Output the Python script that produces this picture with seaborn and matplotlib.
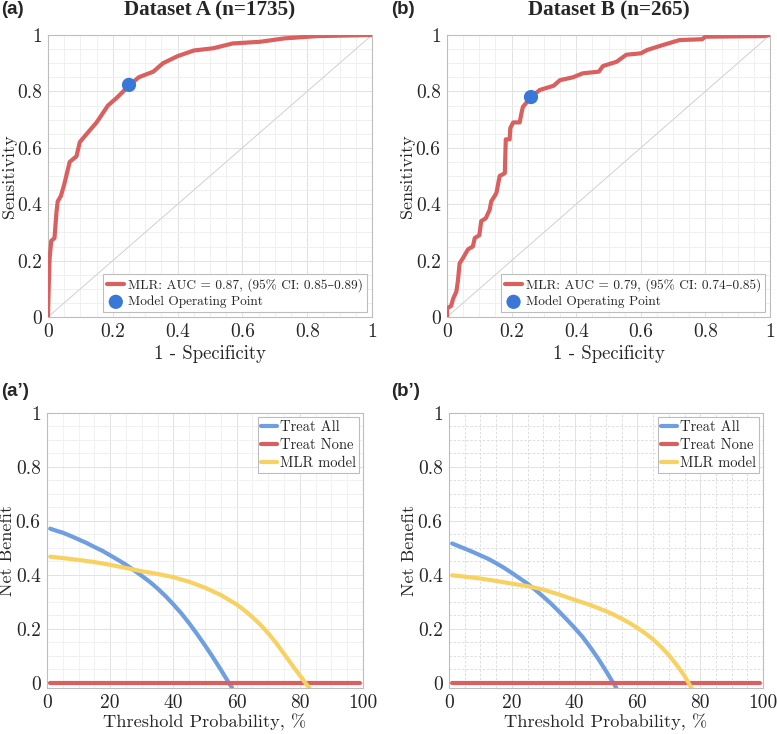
import os
import pandas as pd
import seaborn as sns
import matplotlib as mpl
import matplotlib.pyplot as plt
from matplotlib import font_manager
from matplotlib.ticker import MultipleLocator, FuncFormatter

# --- ROC data ---
fpr_a = [0, 0.002, 0.005, 0.01, 0.02, 0.026, 0.03, 0.04, 0.05, 0.067, 0.088, 0.098, 0.12,
         0.15, 0.185, 0.21, 0.25, 0.28, 0.325, 0.355, 0.4, 0.45, 0.51, 0.57, 0.655, 0.73, 0.83, 1.0]
tpr_a = [0, 0.10, 0.21, 0.27, 0.28, 0.37, 0.41, 0.43, 0.47, 0.55, 0.57, 0.62, 0.65,
         0.69, 0.75, 0.775, 0.82, 0.85, 0.87, 0.90, 0.925, 0.945, 0.953, 0.97, 0.976, 0.988, 0.996, 1.0]
op_a = (0.25, 0.823)

fpr_b = [0, 0, 0.013, 0.019, 0.029, 0.034, 0.039, 0.05, 0.065, 0.08, 0.086, 0.10, 0.106, 0.12,
         0.132, 0.137, 0.148, 0.153, 0.163, 0.179, 0.182, 0.194, 0.196, 0.205, 0.225, 0.23, 0.235,
         0.26, 0.287, 0.33, 0.35, 0.39, 0.42, 0.47, 0.483, 0.525, 0.555, 0.60, 0.62, 0.67, 0.72,
         0.79, 0.80, 0.98, 1.0]
tpr_b = [0, 0.03, 0.04, 0.065, 0.09, 0.13, 0.19, 0.21, 0.24, 0.25, 0.28, 0.29, 0.34, 0.35,
         0.38, 0.41, 0.43, 0.44, 0.50, 0.51, 0.63, 0.63, 0.67, 0.69, 0.69, 0.72, 0.745,
         0.78, 0.805, 0.82, 0.84, 0.85, 0.864, 0.87, 0.89, 0.905, 0.93, 0.935, 0.947, 0.965, 0.982,
         0.985, 0.994, 0.996, 1.0]
op_b = (0.26, 0.78)

auc_a = "MLR: AUC = 0.87, (95% CI: 0.85–0.89)"
auc_b = "MLR: AUC = 0.79, (95% CI: 0.74–0.85)"

# --- Decision curve data (threshold %, net benefit) ---
none_t = [1, 99]
none_nb = [0, 0]

all_t_a = [1, 2.5, 5, 7.5, 10, 12.5, 15, 17.5, 20, 22.5, 25, 27.5, 30, 32.5, 35, 37.5,
           40, 42.5, 45, 47.5, 50, 52.5, 55, 57.5, 58.6]
all_nb_a = [0.571, 0.565, 0.556, 0.544, 0.531, 0.518, 0.503, 0.489, 0.472, 0.455, 0.437, 0.417,
            0.396, 0.374, 0.349, 0.321, 0.29, 0.257, 0.22, 0.18, 0.138, 0.094, 0.048, 0.0, -0.02]
mlr_t_a = [1, 5, 10, 15, 20, 25, 30, 35, 40, 45, 50, 55, 60, 62.5, 65, 67.5, 70, 72.5,
           75, 77.5, 80, 82, 83]
mlr_nb_a = [0.467, 0.462, 0.455, 0.447, 0.437, 0.425, 0.413, 0.403, 0.391, 0.374, 0.352, 0.325,
            0.29, 0.268, 0.243, 0.215, 0.183, 0.147, 0.107, 0.066, 0.027, -0.005, -0.02]

all_t_b = [1, 5, 7.5, 10, 12.5, 15, 17.5, 20, 22.5, 25, 27.5, 30, 32.5, 35, 37.5, 40,
           42.5, 45, 47.5, 50, 52.5, 53.3]
all_nb_b = [0.516, 0.497, 0.485, 0.472, 0.459, 0.443, 0.426, 0.407, 0.387, 0.367, 0.344, 0.319,
            0.293, 0.264, 0.234, 0.203, 0.17, 0.131, 0.089, 0.043, -0.005, -0.02]
mlr_t_b = [1, 5, 10, 15, 20, 25, 30, 35, 40, 45, 50, 52.5, 55, 57.5, 60, 62.5, 65, 67.5,
           70, 72.5, 75, 76.5, 77.2]
mlr_nb_b = [0.398, 0.393, 0.386, 0.377, 0.367, 0.358, 0.345, 0.327, 0.307, 0.288, 0.265, 0.252,
            0.237, 0.221, 0.203, 0.183, 0.16, 0.133, 0.102, 0.066, 0.025, -0.005, -0.02]

RED = "#d9605f"
BLUE_DOT = "#3a78d8"
BLUE = "#6f9fe0"
YELLOW = "#f7d262"
FRAME = "#bdbdbd"

sns.set_style("white")
cm_path = os.path.join(mpl.get_data_path(), "fonts", "ttf", "cmr10.ttf")
font_manager.fontManager.addfont(cm_path)
plt.rcParams["font.family"] = ["cmr10", "DejaVu Serif"]
plt.rcParams["axes.formatter.use_mathtext"] = True
plt.rcParams["mathtext.fontset"] = "cm"

fig = plt.figure(figsize=(7.77, 7.34), dpi=100)
W, H = 777, 734


def add_ax(l, t, r, b):
    return fig.add_axes([l / W, 1 - b / H, (r - l) / W, (b - t) / H])


ax_a = add_ax(48, 35, 372, 317)
ax_b = add_ax(447, 35, 770, 317)
ax_c = add_ax(47, 413, 363, 688)
ax_d = add_ax(449, 413, 763, 688)

fmt = FuncFormatter(lambda v, p: ("%g" % round(v, 6)))


def style_ax(ax, xmaj, xmin, ymaj, ymin, minor_ls="-", minor_col="#eeeeee"):
    ax.xaxis.set_major_locator(MultipleLocator(xmaj))
    ax.xaxis.set_minor_locator(MultipleLocator(xmin))
    ax.yaxis.set_major_locator(MultipleLocator(ymaj))
    ax.yaxis.set_minor_locator(MultipleLocator(ymin))
    ax.xaxis.set_major_formatter(fmt)
    ax.yaxis.set_major_formatter(fmt)
    ax.grid(which="major", color="#e2e2e2", lw=0.7)
    ax.grid(which="minor", color=minor_col, lw=0.6, ls=minor_ls)
    ax.set_axisbelow(True)
    for s in ax.spines.values():
        s.set_color(FRAME)
        s.set_linewidth(0.8)
    ax.tick_params(which="major", direction="out", length=3, width=0.6, color="#666666",
                   labelsize=14, pad=1.5, top=False, right=False)
    ax.tick_params(which="minor", length=0)
    w = ax.get_position().width * W
    ax.yaxis.set_label_coords(-31.5 / w, 0.5)


# --- ROC panels ---
for ax, fpr, tpr, op, lab, title in [
    (ax_a, fpr_a, tpr_a, op_a, auc_a, "Dataset A (n=1735)"),
    (ax_b, fpr_b, tpr_b, op_b, auc_b, "Dataset B (n=265)"),
]:
    roc = pd.DataFrame({"fpr": fpr, "tpr": tpr})
    ax.plot([0, 1], [0, 1], color="#d0d0d0", lw=0.7, zorder=1)
    sns.lineplot(data=roc, x="fpr", y="tpr", ax=ax, color=RED, lw=3, sort=False,
                 estimator=None, label=lab, zorder=3)
    sns.scatterplot(x=[op[0]], y=[op[1]], ax=ax, color=BLUE_DOT, s=105, edgecolor="none",
                    label="Model Operating Point", zorder=4)
    ax.set_xlim(0, 1)
    ax.set_ylim(0, 1)
    style_ax(ax, 0.2, 0.05, 0.2, 0.05)
    ax.set_xlabel("1 - Specificity", fontsize=13.5, labelpad=3)
    ax.set_ylabel("Sensitivity", fontsize=13)
    leg = ax.legend(loc="lower right", fontsize=9.6, frameon=True, fancybox=False,
                    edgecolor=FRAME, framealpha=1, borderpad=0.3, handlelength=1.3,
                    handletextpad=0.3, labelspacing=0.3, borderaxespad=0.35)
    leg.get_frame().set_linewidth(0.8)
    ax.set_title(title, fontsize=15.2, fontweight="bold", family="Liberation Serif", pad=14)

for tx, ty, tag in [(1, 10, "(a)"), (391, 10, "(b)"), (1, 392, "(a’)"), (391, 392, "(b’)")]:
    fig.text(tx / W, 1 - ty / H, tag, fontsize=13.5, fontweight="bold",
             family="Liberation Sans", va="center", ha="left")

# --- Decision curve panels ---
for ax, at, anb, mt, mnb, ls, mc in [
    (ax_c, all_t_a, all_nb_a, mlr_t_a, mlr_nb_a, "-", "#efefef"),
    (ax_d, all_t_b, all_nb_b, mlr_t_b, mlr_nb_b, (0, (3, 2)), "#d9d9d9"),
]:
    sns.lineplot(x=at, y=anb, ax=ax, color=BLUE, lw=3, label="Treat All", estimator=None)
    sns.lineplot(x=none_t, y=none_nb, ax=ax, color=RED, lw=3, label="Treat None", estimator=None)
    sns.lineplot(x=mt, y=mnb, ax=ax, color=YELLOW, lw=3, label="MLR model", estimator=None)
    ax.set_xlim(0, 100)
    ax.set_ylim(-0.02, 1)
    style_ax(ax, 20, 5, 0.2, 0.05, minor_ls=ls, minor_col=mc)
    ax.set_xlabel("Threshold Probability, %", fontsize=13.2, labelpad=1)
    ax.set_ylabel("Net Benefit", fontsize=13)
    leg = ax.legend(loc="upper right", fontsize=10.5, frameon=True, fancybox=False,
                    edgecolor=FRAME, framealpha=1, borderpad=0.2, handlelength=1.1,
                    handletextpad=0.2, labelspacing=0.3, borderaxespad=0.3)
    leg.get_frame().set_linewidth(0.8)

fig.savefig("out.png", dpi=100)
plt.close(fig)
